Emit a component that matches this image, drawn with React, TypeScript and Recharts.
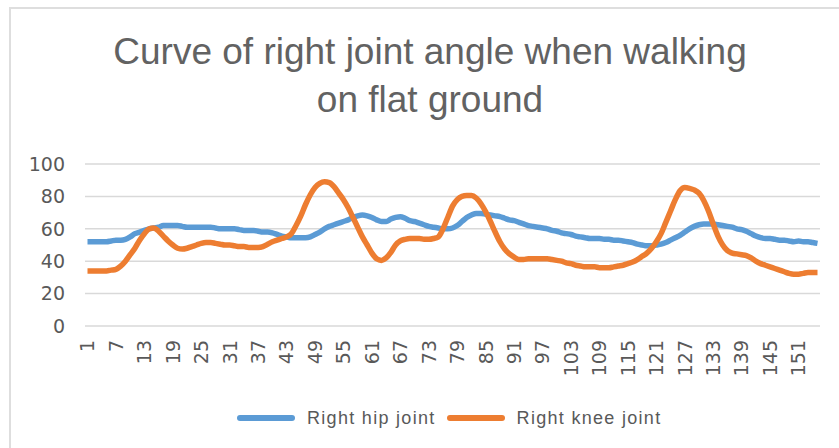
import { LineChart, Line, XAxis, YAxis, CartesianGrid } from "recharts"

// joint angles (degrees), one value per frame
const hipAngle = [
  52, 52, 52, 52, 52, 52.5, 53, 53, 53.5, 55,
  57, 58, 59, 60, 60.5, 61, 62, 62, 62, 62,
  61.5, 61, 61, 61, 61, 61, 61, 60.5, 60, 60,
  60, 60, 59.5, 59, 59, 59, 58.5, 58, 58, 57.5,
  56.5, 55.5, 55, 54.5, 54.5, 54.5, 54.5, 55, 56.5, 58,
  60, 61.5, 62.5, 63.5, 64.5, 65.5, 67, 68, 68.5, 68,
  67, 65.5, 64.5, 64.5, 66, 67, 67.5, 66.5, 65, 64.5,
  63.5, 62.5, 61.5, 61, 60.5, 60, 60, 60.5, 62, 64.5,
  67, 68.5, 69.5, 69.5, 69, 68.5, 68, 67.5, 66.5, 65.5,
  65, 64, 63, 62, 61.5, 61, 60.5, 60, 59, 58.5,
  57.5, 57, 56.5, 55.5, 55, 54.5, 54, 54, 54, 53.5,
  53.5, 53, 53, 52.5, 52, 51.5, 50.5, 50, 49.5, 49.5,
  50, 50.5, 51.5, 53, 54.5, 56, 58, 60, 61.5, 62.5,
  63, 63, 63, 62.5, 62, 61.5, 61, 60, 59.5, 58.5,
  57, 55.5, 54.5, 54, 54, 53.5, 53, 53, 52.5, 52,
  52.5, 52, 52, 51.5, 51,
]

const kneeAngle = [
  34, 34, 34, 34, 34, 34.5, 35, 37, 40, 44,
  48, 53, 57, 60, 60.5, 58.5, 55.5, 52.5, 50, 48,
  47.5, 48, 49, 50, 51, 51.5, 51.5, 51, 50.5, 50,
  50, 49.5, 49, 49, 48.5, 48.5, 48.5, 49, 50.5, 52,
  53, 54, 55, 57, 62, 68, 75, 81, 85.5, 88,
  89, 88.5, 86, 82, 78, 73, 67, 61, 55, 50,
  45, 41.5, 40.5, 42, 45.5, 50, 52.5, 53.5, 54, 54,
  54, 53.5, 53.5, 54, 55, 60, 67, 74, 78, 80,
  80.5, 80.5, 79, 75.5, 70.5, 64.5, 58, 52, 47.5, 44.5,
  42.5, 41, 41, 41.5, 41.5, 41.5, 41.5, 41.5, 41, 40.5,
  40, 39, 38.5, 37.5, 37, 36.5, 36.5, 36.5, 36, 36,
  36, 36.5, 37, 37.5, 38.5, 39.5, 41, 43, 45, 48,
  52, 57, 64, 71, 78, 83.5, 85.5, 85, 84, 82,
  77.5, 71, 63, 55.5, 50, 46.5, 45, 44.5, 44, 43.5,
  42, 40, 38.5, 37.5, 36.5, 35.5, 34.5, 33.5, 32.5, 32,
  32, 32.5, 33, 33, 33,
]

const yTicks = [0, 20, 40, 60, 80, 100]

const data = hipAngle.map((hip, i) => ({ frame: String(i + 1), hip, knee: kneeAngle[i] }))

const textGray = "#595959"

const FrameTick = (props: any) => {
  const { x, y, payload } = props
  return (
    <g transform={`translate(${x},${y})`}>
      <text
        transform="rotate(-90)"
        x={-4}
        y={0}
        dy="0.36em"
        textAnchor="end"
        fill={textGray}
        fontSize={19}
        fontFamily="DejaVu Sans"
      >
        {payload.value}
      </text>
    </g>
  )
}

export default function App() {
  return (
    <div
      style={{
        position: "absolute",
        left: 0,
        top: 0,
        width: 839,
        height: 448,
        overflow: "hidden",
        background: "#fff",
      }}
    >
      <div
        style={{
          position: "absolute",
          left: 9,
          top: 7,
          width: 900,
          height: 500,
          borderLeft: "2px solid #dedede",
          borderTop: "2px solid #dedede",
        }}
      />
      <div
        style={{
          position: "absolute",
          left: 0,
          top: 28,
          width: 860,
          textAlign: "center",
          fontFamily: "'Liberation Sans', Arial, sans-serif",
          fontSize: 37,
          lineHeight: "48px",
          color: "#626262",
        }}
      >
        Curve of right joint angle when walking
        <br />
        on flat ground
      </div>
      <div style={{ position: "absolute", left: 0, top: 0 }}>
        <LineChart width={839} height={448} data={data} margin={{ top: 164, right: 19, bottom: 92, left: 0 }}>
          <CartesianGrid vertical={false} stroke="#d9d9d9" strokeWidth={1.5} />
          <XAxis
            dataKey="frame"
            interval={5}
            height={30}
            axisLine={false}
            tickLine={false}
            tick={<FrameTick />}
            tickSize={0}
            tickMargin={10}
            padding={{ left: 2.5, right: 2.5 }}
          />
          <YAxis
            domain={[0, 100]}
            ticks={yTicks}
            interval={0}
            width={85}
            axisLine={false}
            tickLine={false}
            tickSize={0}
            tickMargin={20}
            tick={{ fill: textGray, fontSize: 19, fontFamily: "DejaVu Sans" }}
          />
          <Line
            type="monotone"
            dataKey="hip"
            stroke="#5B9BD5"
            strokeWidth={5.5}
            dot={false}
            isAnimationActive={false}
          />
          <Line
            type="monotone"
            dataKey="knee"
            stroke="#ED7D31"
            strokeWidth={5.5}
            dot={false}
            isAnimationActive={false}
          />
        </LineChart>
      </div>
      <div
        style={{
          position: "absolute",
          left: 237,
          top: 405,
          height: 26,
          display: "flex",
          alignItems: "center",
          fontFamily: "'Liberation Sans', Arial, sans-serif",
          fontSize: 18,
          letterSpacing: 1.3,
          color: textGray,
          whiteSpace: "nowrap",
        }}
      >
        <span style={{ width: 58, height: 6, borderRadius: 3, background: "#5B9BD5", marginRight: 12 }} />
        <span style={{ marginRight: 11 }}>Right hip joint</span>
        <span style={{ width: 58, height: 6, borderRadius: 3, background: "#ED7D31", marginRight: 12 }} />
        <span>Right knee joint</span>
      </div>
    </div>
  )
}
